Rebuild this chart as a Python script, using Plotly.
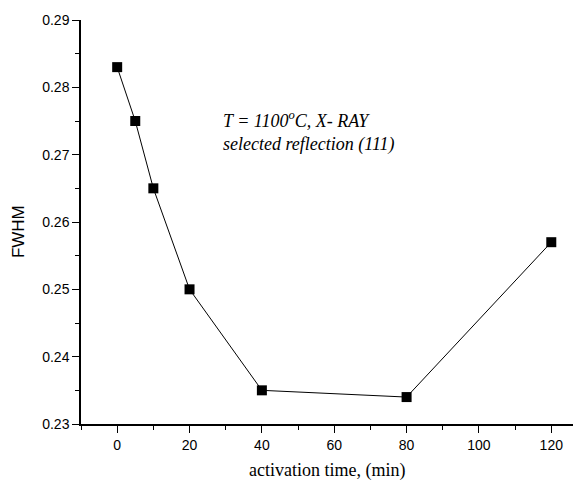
import plotly.graph_objects as go

time_min = [0, 5, 10, 20, 40, 80, 120]
fwhm = [0.283, 0.275, 0.265, 0.250, 0.235, 0.234, 0.257]
x_ticks = [0, 20, 40, 60, 80, 100, 120]
y_ticks = [0.23, 0.24, 0.25, 0.26, 0.27, 0.28, 0.29]

fig = go.Figure()
fig.add_trace(go.Scatter(
    x=time_min, y=fwhm, mode="lines+markers",
    line=dict(color="black", width=1),
    marker=dict(symbol="square", size=10, color="black"),
    showlegend=False,
))

fig.add_annotation(
    x=28.7, y=0.2734, xref="x", yref="y",
    text="T = 1100<sup>o</sup>C, X- RAY<br>selected reflection (111)",
    showarrow=False, xanchor="left", yanchor="middle", align="left",
    font=dict(family="Liberation Serif", size=18, color="black", style="italic"),
)

# axis titles as annotations for exact placement
fig.add_annotation(
    x=0, y=0.475, xref="paper", yref="paper", xshift=-63,
    text="FWHM", textangle=-90, showarrow=False,
    xanchor="center", yanchor="middle",
    font=dict(family="Liberation Sans", size=17, color="black"),
)
fig.add_annotation(
    x=0.5, y=0, xref="paper", yref="paper", yshift=-46,
    text="activation time, (min)", showarrow=False,
    xanchor="center", yanchor="middle",
    font=dict(family="Liberation Serif", size=18, color="black"),
)

fig.update_layout(
    width=573, height=482,
    margin=dict(l=81, r=0, t=20, b=58, autoexpand=False),
    paper_bgcolor="white", plot_bgcolor="white",
    font=dict(family="Liberation Sans", color="black"),
    xaxis=dict(
        range=[-10, 126], tickmode="array", tickvals=x_ticks,
        ticktext=[str(v) for v in x_ticks],
        ticks="outside", ticklen=7, tickwidth=1, tickcolor="black",
        minor=dict(ticks="outside", dtick=10, ticklen=4, tickcolor="black", tickwidth=1),
        showline=True, linecolor="black", linewidth=1.5,
        showgrid=False, zeroline=False, automargin=False,
        tickfont=dict(family="Liberation Sans", size=14, color="black"),
    ),
    yaxis=dict(
        range=[0.23, 0.29], tickmode="array", tickvals=y_ticks,
        ticktext=["%.2f" % v for v in y_ticks],
        ticks="outside", ticklen=7, tickwidth=1, tickcolor="black",
        minor=dict(ticks="outside", dtick=0.005, ticklen=4, tickcolor="black", tickwidth=1),
        showline=True, linecolor="black", linewidth=1.5,
        showgrid=False, zeroline=False, automargin=False,
        tickfont=dict(family="Liberation Sans", size=14, color="black"),
    ),
)

fig.write_html("out.html", config={"displayModeBar": False},
               post_script="document.body.style.margin='0px';")
